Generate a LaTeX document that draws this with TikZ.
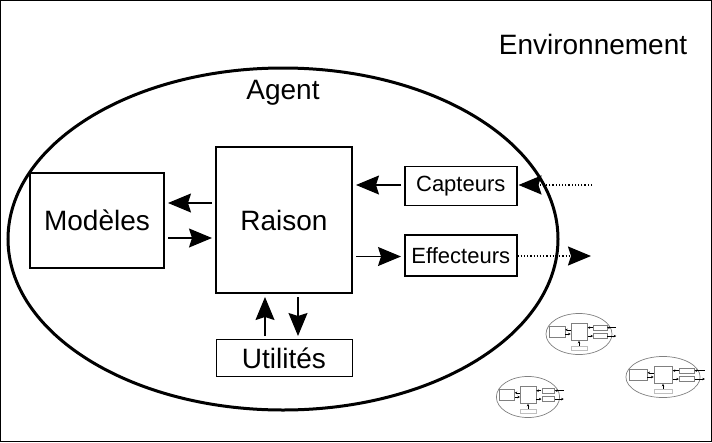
\documentclass[tikz,border=0pt]{standalone}
\usepackage{fontspec}
\setmainfont{Liberation Sans}
\usetikzlibrary{positioning,shapes.geometric,arrows.meta}

\begin{document}
\begin{tikzpicture}[
    x=1pt, y=-1pt,
    node distance=45pt and 50pt,
    box/.style={rectangle, draw, line width=2pt, inner sep=0pt, text centered},
    big/.style={font=\fontsize{28}{30}\selectfont},
    small/.style={font=\fontsize{22}{24}\selectfont},
    core/.style={box, big, minimum width=136pt, minimum height=146pt},
    memory/.style={box, big, minimum width=134pt, minimum height=95pt},
    util/.style={box, big, line width=1pt, minimum width=136pt, minimum height=37pt},
    io/.style={box, small, line width=1.5pt, minimum width=112pt},
    arr/.style={-{Stealth[length=23pt,width=19pt,inset=3pt]}, line width=1.2pt, shorten <=3pt, shorten >=3pt},
    ext/.style={arr, dotted, line width=1.5pt, shorten <=0pt, shorten >=1pt},
    minibox/.style={draw=gray, line width=0.5pt},
    miniarr/.style={-{Stealth[length=2.5pt,width=2.5pt]}, line width=0.4pt},
    miniagent/.pic={
        \draw[gray, line width=0.7pt] (0,0) ellipse [x radius=275, y radius=171];
        \draw[minibox] (-251,-66) rectangle (-117,29);
        \draw[minibox] (-67,-92) rectangle (69,54);
        \draw[draw=gray!50, line width=0.5pt] (-67,99) rectangle (69,136);
        \draw[minibox] (120,-72) rectangle (232,-33);
        \draw[minibox] (120,-5) rectangle (232,36);
        \draw[miniarr] (-70,-35) -- (-115,-35);
        \draw[miniarr] (-115,0) -- (-70,0);
        \draw[miniarr] (117,-53) -- (72,-53);
        \draw[miniarr] (72,17) -- (117,17);
        \draw[miniarr] (0,96) -- (0,57);
        \draw[miniarr] (310,-53) -- (234,-53);
        \draw[miniarr] (234,17) -- (310,17);
    }
]
    \useasboundingbox (0,0) rectangle (712,442);
    \draw[line width=1pt] (0.5,0.5) rectangle (711.5,441.5);

    % Environment and agent
    \node[big] (env) at (593,44) {Environnement};
    \node[ellipse, draw, line width=3pt, inner sep=0pt,
          minimum width=550pt, minimum height=342pt] (agent) at (283,239) {};
    \node[big] (agentlabel) at (283,93) {Agent};

    % Inside the agent
    \node[core] (raison) at (284,220) {Raison};
    \node[memory, left=of raison] (modeles) {Modèles};
    \node[util, below=of raison] (utilites) {Utilités};
    \node[io, minimum height=39pt, right=51pt of raison, yshift=34pt] (capteurs) {Capteurs};
    \node[io, minimum height=41pt, below=28pt of capteurs] (effecteurs) {Effecteurs};

    % Outside world
    \coordinate (in) at (592,185);
    \coordinate (out) at (592,256);

    % Connections
    \draw[arr] ([yshift=17pt]raison.west) -- ([yshift=17pt]raison.west -| modeles.east);
    \draw[arr] ([yshift=-18pt]modeles.east) -- ([yshift=-18pt]modeles.east -| raison.west);
    \draw[arr] ([yshift=1pt]capteurs.west) -- ([yshift=1pt]capteurs.west -| raison.east);
    \draw[arr] ([yshift=-1pt]raison.east |- effecteurs) -- ([yshift=-1pt]effecteurs.west);
    \draw[arr] ([xshift=-19pt]utilites.north) -- ([xshift=-19pt]raison.south);
    \draw[arr] ([xshift=14pt]raison.south) -- ([xshift=14pt]utilites.north);
    \draw[ext] (in) -- (in -| capteurs.east);
    \draw[ext] (out -| effecteurs.east) -- (out);

    % Other agents
    \pic[scale=0.12] at (579,334) {miniagent};
    \pic[xscale=0.135, yscale=0.12] at (663,377) {miniagent};
    \pic[xscale=0.115, yscale=0.12] at (528,397) {miniagent};
\end{tikzpicture}
\end{document}
